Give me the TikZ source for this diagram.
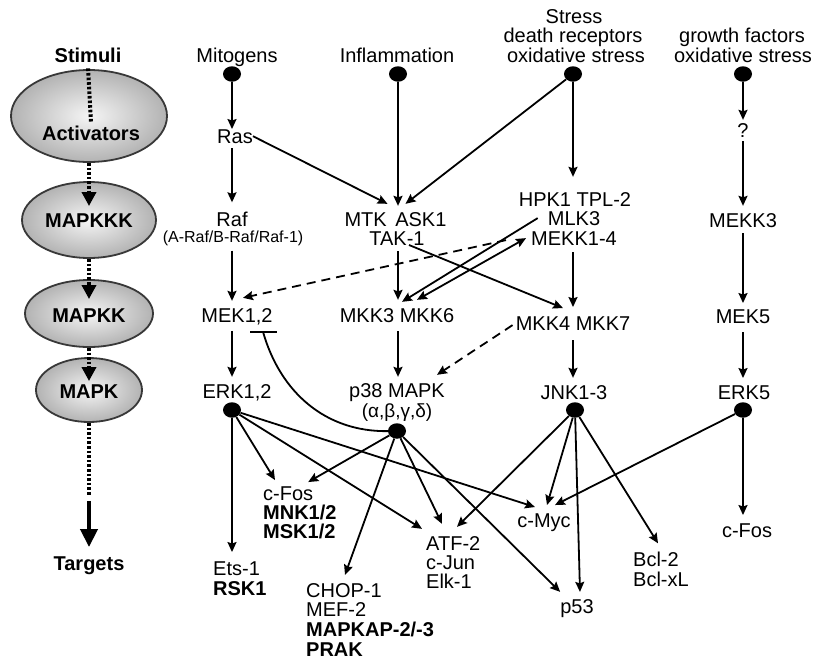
\documentclass[tikz,border=0pt]{standalone}
\usepackage{fontspec}
\setmainfont{Liberation Sans}
\usetikzlibrary{arrows.meta,calc,shapes.geometric}
\begin{document}
\begin{tikzpicture}[x=1pt,y=-1pt,
  ahd/.tip={Stealth[length=10pt,width=9pt,inset=1.5pt]},
  txt/.style={inner sep=0pt, anchor=base, font=\fontsize{20}{20}\selectfont},
  txtl/.style={txt, anchor=base west},
  btxt/.style={txt, font=\fontsize{20}{20}\selectfont\bfseries},
  btxtl/.style={btxt, anchor=base west},
  dot/.style={ellipse, fill=black, minimum width=18pt, minimum height=15.5pt, inner sep=0pt},
  conl/.style={line width=1.8pt},
  con/.style={conl, -ahd},
  dcon/.style={con, dash pattern=on 9pt off 6pt},
  stage/.style={ellipse, draw=black!78, line width=1.8pt, shading=radial,
                inner color=black!4, outer color=black!30, inner sep=0pt},
  dots/.style={line width=4pt, dash pattern=on 2.6pt off 2pt},
  big/.style={-{Triangle[length=14pt,width=14pt]}}
]
\useasboundingbox (0,0) rectangle (814,659);
\fill[white] (0,0) rectangle (814,659);

% ---------- left column ----------
\node[btxt] (stim) at (88,62) {Stimuli};
\node[stage, minimum width=156pt, minimum height=92pt] (eact) at (89,116) {};
\node[btxt] (act) at (91,140) {Activators};
\node[stage, minimum width=134pt, minimum height=76pt] (ekkk) at (89,220) {};
\node[btxt] (kkk) at (89,227) {MAPKKK};
\node[stage, minimum width=128pt, minimum height=67pt] (ekk) at (89,313.5) {};
\node[btxt] (kk) at (89,322) {MAPKK};
\node[stage, minimum width=106pt, minimum height=64pt] (ek) at (89,390) {};
\node[btxt] (k) at (89,398) {MAPK};
\node[btxt] (tgt) at (89,570) {Targets};
\coordinate (brkA) at ($(ek.south)+(0,73)$);
\coordinate (brkB) at ($(ek.south)+(0,78)$);

\draw[dots] ($(stim.south)+(0,6)$) -- ($(act.north)+(0,-3)$);
\draw[dots,big] (eact.south) -- ($(kkk.north)+(0,-7)$);
\draw[dots,big] (ekkk.south) -- ($(kk.north)+(0,-9)$);
\draw[dots,big] (ekk.south) -- ($(k.north)+(0,-3)$);
\draw[dots] (ek.south) -- (brkA);
\draw[line width=4pt,-{Triangle[length=18pt,width=17pt]}] (brkB) -- ($(tgt.north)+(0,-9)$);

% ---------- stimuli ----------
\node[txt] (mit) at (237,62) {Mitogens};
\node[txt] (inf) at (397,62) {Inflammation};
\node[txt] (st1) at (574,23) {Stress};
\node[txt] (st2) at (573,42) {death receptors};
\node[txt] (st3) at (576,62) {oxidative stress};
\node[txt] (gf1) at (742,42) {growth factors};
\node[txt] (gf2) at (743,62) {oxidative stress};

\node[dot] (dm) at (232,74) {};
\node[dot] (di) at (398,74) {};
\node[dot] (ds) at (573,74) {};
\node[dot] (dg) at (743,74) {};

% ---------- kinases ----------
\node[txt] (ras) at (235,143) {Ras};
\node[txt] (q) at (743,137) {?};
\node[txt] (raf) at (232,226) {Raf};
\node[txt, font=\fontsize{16}{16}\selectfont] (rafs) at (233,242) {(A-Raf/B-Raf/Raf-1)};
\node[txt] (mtk) at (395.5,226) {MTK\kern3pt\ ASK1};
\node[txt] (tak) at (397,245) {TAK-1};
\node[txt] (hpk) at (575,206) {HPK1 TPL-2};
\node[txt] (mlk) at (574,225) {MLK3};
\node[txt] (mekk) at (574,245) {MEKK1-4};
\node[txt] (mekk3) at (743,227) {MEKK3};
\node[txt] (mek) at (237,322) {MEK1,2};
\node[txt] (mkk36) at (397,322) {MKK3 MKK6};
\node[txt] (mkk47) at (573,330) {MKK4 MKK7};
\node[txt] (mek5) at (743,323) {MEK5};
\node[txt] (erk) at (237,398) {ERK1,2};
\node[txt] (p38) at (397,397) {p38 MAPK};
\node[txt, font=\fontsize{19}{19}\selectfont] (p38s) at (397,417) {(α,β,γ,δ)};
\node[txt] (jnk) at (574,399) {JNK1-3};
\node[txt] (erk5) at (744,399) {ERK5};

\node[dot] (de) at (232,410) {};
\node[dot] (dp) at (397,431) {};
\node[dot] (dj) at (575,410) {};
\node[dot] (d5) at (743,410) {};

% ---------- targets ----------
\node[txtl] (ets) at (213,575) {Ets-1};
\node[btxtl] (rsk) at (213,595) {RSK1};
\node[txtl] (cfos) at (263,500) {c-Fos};
\node[btxtl] (mnk) at (263,519) {MNK1/2};
\node[btxtl] (msk) at (263,538) {MSK1/2};
\node[txtl] (chop) at (306,597) {CHOP-1};
\node[txtl] (mef) at (306,616) {MEF-2};
\node[btxtl] (mapkap) at (306,636) {MAPKAP-2/-3};
\node[btxtl] (prak) at (306,656) {PRAK};
\node[txtl] (atf) at (426,550) {ATF-2};
\node[txtl] (cjun) at (426,569) {c-Jun};
\node[txtl] (elk) at (426,588) {Elk-1};
\node[txt] (cmyc) at (544,527) {c-Myc};
\node[txt] (p53) at (577,613) {p53};
\node[txtl] (bcl) at (633,566) {Bcl-2};
\node[txtl] (bclx) at (633,586) {Bcl-xL};
\node[txt] (cfos2) at (747,537) {c-Fos};

% ---------- connectors: upper part ----------
\draw[con] (dm) -- (dm |- ras.north);
\draw[con] ($(dm |- ras.south)+(0,5)$) -- ($(dm |- raf.north)+(0,-9)$);
\draw[con] (ras.east) -- ($(mtk.north)+(-8,-8)$);
\draw[con] (di) -- ($(di |- mtk.north)+(0,-6)$);
\draw[con] (ds) -- ($(mtk.north)+(10,-8)$);
\draw[con] (ds) -- ($(ds |- hpk.north)+(0,-15)$);
\draw[con] (dg) -- ($(dg |- q.north)+(0,-3)$);
\draw[con] ($(dg |- q.south)+(0,4)$) -- ($(dg |- mekk3.north)+(0,-7)$);

\draw[con] ($(dm |- rafs.south)+(0,5)$) -- ($(dm |- mek.north)+(0,-7)$);
\draw[con] ($(dm |- mek.south)+(0,6)$) -- ($(dm |- erk.north)+(0,-7)$);
\draw[con] ($(di |- tak.south)+(0,6)$) -- ($(di |- mkk36.north)+(0,-8)$);
\draw[con] ($(di |- mkk36.south)+(0,9)$) -- ($(di |- p38.north)+(0,-6)$);
\draw[con] ($(ds |- mekk.south)+(0,7)$) -- ($(ds |- mkk47.north)+(0,-9)$);
\draw[con] ($(ds |- mkk47.south)+(0,10)$) -- ($(ds |- jnk.north)+(0,-7)$);
\draw[con] ($(dg |- mekk3.south)+(0,6)$) -- ($(dg |- mek5.north)+(0,-6)$);
\draw[con] ($(dg |- mek5.south)+(0,9)$) -- ($(dg |- erk5.north)+(0,-7)$);

\draw[con] ($(tak.base)+(12,0)$) -- ($(mkk47.north)+(-10,-8)$);
\draw[con] ($(mlk.west)+(-10,0)$) -- ($(mkk36.north)+(5,-6)$);
\draw[conl,ahd-ahd] ($(mkk36.north)+(20,-8)$) -- ($(mekk.west)+(-5,0)$);
\draw[dcon] ($(mekk.west)+(-25,2)$) -- ($(mek.north)+(6,-10)$);
\draw[dcon] ($(mkk47.west)+(-3,2)$) -- ($(p38.north)+(40,-8)$);

% inhibition of MEK1,2 by p38
\coordinate (tbar) at ($(mek.south)+(26,7)$);
\draw[conl] (dp) .. controls +(-72,1) and +(17,60) .. (tbar);
\draw[conl] ($(tbar)+(-13,0)$) -- ($(tbar)+(14,0)$);

% ---------- connectors: to targets ----------
\draw[con] (de) -- ($(de |- ets.north)+(0,-9)$);
\draw[con] (de) -- ($(cfos.north west)+(12,-6)$);
\draw[con] (de) -- ($(atf.north west)+(-4,-7)$);
\draw[con] (de) -- ($(cmyc.north)+(-9,-6)$);

\draw[con] (dp) -- ($(cfos.north)+(20,-4)$);
\draw[con] (dp) -- ($(chop.north west)+(39,-8)$);
\draw[con] (dp) -- ($(atf.north west)+(16,-12)$);
\draw[con] (dp) -- ($(p53.north west)+(0,-7)$);

\draw[con] (dj) -- ($(atf.north west)+(31,-9)$);
\draw[con] (dj) -- ($(cmyc.north)+(3,-8)$);
\draw[con] (dj) -- ($(p53.north)+(3,-7)$);
\draw[con] (dj) -- ($(bcl.north west)+(25,-8)$);

\draw[con] (d5) -- ($(cmyc.north)+(11,-8)$);
\draw[con] (d5) -- ($(d5 |- cfos2.north)+(0,-8)$);
\end{tikzpicture}
\end{document}
